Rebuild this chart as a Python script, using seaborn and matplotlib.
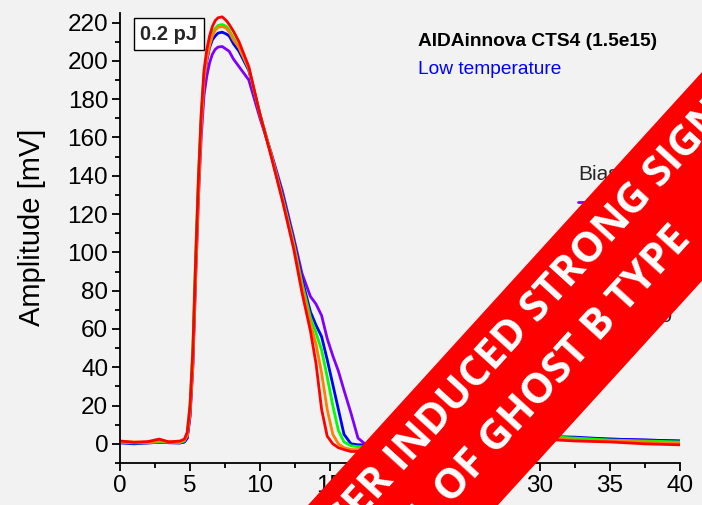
import numpy as np
import pandas as pd
import matplotlib
matplotlib.use("Agg")
import matplotlib.pyplot as plt
import seaborn as sns
from matplotlib.patches import Polygon
from matplotlib.ticker import MultipleLocator

# ---------------- data ----------------
time_ns = [0, 1, 2, 2.8, 3.5, 4.3, 4.6, 4.8, 5.0, 5.2, 5.4, 5.6, 5.8, 6.0, 6.2, 6.4,
           6.6, 6.8, 7.0, 7.3, 7.6, 7.8, 8.1, 8.5, 9.2, 10.0, 10.8, 11.6, 12.4, 13.0,
           13.6, 14.0, 14.4, 14.8, 15.2, 15.6, 16.0, 16.5, 17.0, 17.5, 18.5, 20,
           22.5, 25, 27.5, 30, 32.5, 35, 37.5, 40]

amp_purple = [0.8, 0.5, 0.5, 0.8, 0.6, 0.5, 1.0, 3, 14, 40, 86, 128, 160, 182, 192, 199,
              203.5, 206, 207.2, 207.5, 206, 205, 201, 197, 190, 170, 152, 132, 108, 89,
              77, 73, 67, 55, 46, 38, 28, 16, 3, 0, 0, 1,
              3, 4, 4.5, 4, 3, 2.5, 2, 1.5]
amp_blue = [0.5, 0.0, 0.5, 0.8, 0.6, 0.5, 1.0, 3, 15, 42, 90, 133, 168, 190, 200, 207,
            211, 213, 214.5, 215, 214, 213, 209, 205, 195, 172, 151, 130, 106, 86,
            69, 62, 56, 44, 31, 18, 5, 0, -0.5, -0.5, 0, 1,
            3, 4.5, 5, 4, 3.5, 2.5, 2, 1.5]
amp_green = [0.8, 0.5, 0.6, 1.0, 0.8, 0.7, 1.5, 5, 20, 50, 98, 140, 172, 193, 203, 210,
             214.5, 217, 218.5, 219, 218, 216, 212, 207, 196, 172, 151, 129, 105, 84,
             66, 58, 49, 35, 20, 7, 1, -1, -1.5, -1.5, -1, 0,
             2, 4, 5, 4, 3, 2, 1.5, 1]
amp_orange = [1.2, 1.0, 0.8, 1.5, 1.2, 1.0, 2.0, 4, 16, 40, 85, 128, 165, 190, 201, 208,
              213, 216, 217.5, 218, 217, 215, 211, 207, 196, 172, 151, 128, 104, 82,
              63, 52, 37, 18, 5, 0, -2, -3, -3, -3, -2, -1,
              1, 3, 4, 3, 2, 1.5, 1, 0.5]
amp_red = [1.5, 0.8, 1.2, 2.5, 1.0, 1.5, 2.5, 6, 20, 48, 95, 138, 172, 195, 206, 213,
           218, 221, 222.5, 223, 221, 219, 215.5, 210, 197, 172, 150, 127, 102, 79,
           59, 42, 18, 4, 0, -2, -3, -4, -4, -4, -3, -2,
           0, 2, 3, 2.5, 1.5, 1, 0, -0.5]

bias_labels = ["200", "300", "400", "500", "600"]
series = [amp_purple, amp_blue, amp_green, amp_orange, amp_red]
colors = ["#8000ff", "#0000ff", "#00ff00", "#ff8000", "#ff0000"]

# ---------------- figure ----------------
BG = "#f2f2f2"
W, H = 702, 505
sns.set_theme(style="ticks")
plt.rcParams['font.family'] = ['Liberation Sans', 'DejaVu Sans']

fig = plt.figure(figsize=(W / 100, H / 100), dpi=100, facecolor=BG)
ax = fig.add_axes([120 / W, 42 / H, 560 / W, 450 / H])
ax.set_facecolor(BG)

df = pd.concat([pd.DataFrame({"Time": time_ns, "Amplitude": s, "Bias": b})
                for s, b in zip(series, bias_labels)], ignore_index=True)

sns.lineplot(data=df, x="Time", y="Amplitude", hue="Bias", hue_order=bias_labels,
             palette=dict(zip(bias_labels, colors)), estimator=None, sort=False,
             linewidth=2.0, ax=ax)

ax.set_xlim(0, 40)
ax.set_ylim(-10, 225)
ax.xaxis.set_major_locator(MultipleLocator(5))
ax.xaxis.set_minor_locator(MultipleLocator(2.5))
ax.yaxis.set_major_locator(MultipleLocator(20))
ax.yaxis.set_minor_locator(MultipleLocator(10))
ax.tick_params(which='major', length=6, width=1.3, direction='out', labelsize=17.5,
               pad=2.5, colors='black')
ax.tick_params(which='minor', length=3.5, width=1.3, direction='out', colors='black')
sns.despine(ax=ax)
for sp in ("left", "bottom"):
    ax.spines[sp].set_linewidth(1.3)
    ax.spines[sp].set_color("black")

ax.set_xlabel("")
ax.set_ylabel("Amplitude [mV]", fontsize=21, color="black")
ax.yaxis.set_label_coords((46 - 120) / 560, 0.523)

handles, labels = ax.get_legend_handles_labels()
ax.legend(handles, labels, title="Bias", loc="upper left",
          bbox_to_anchor=(568 / W, 1 - 155 / H), bbox_transform=fig.transFigure,
          frameon=False, fontsize=15, title_fontsize=15, alignment='left',
          borderpad=0, handlelength=2.0, labelspacing=0.45)

# ---------------- overlay (pixel coordinates) ----------------
ov = fig.add_axes([0, 0, 1, 1], zorder=10)
ov.set_xlim(0, W)
ov.set_ylim(H, 0)
ov.axis("off")
ov.patch.set_alpha(0)

ov.text(169, 34, "0.2 pJ", fontsize=14.5, fontweight="bold", ha="center", va="center",
        bbox=dict(boxstyle="square,pad=0.3", facecolor="white", edgecolor="black",
                  linewidth=1.0), zorder=2)
ov.text(418, 42, "AIDAinnova CTS4 (1.5e15)", fontsize=13.8, fontweight="bold",
        ha="left", va="center", color="black", zorder=2)
ov.text(418, 70, "Low temperature", fontsize=13.8, ha="left", va="center",
        color="#0000ff", zorder=2)

# red diagonal banner
ang = 47.7
a = np.deg2rad(ang)
d = np.array([np.cos(a), -np.sin(a)])      # along band (pixel coords, y down)
n = np.array([-np.sin(a), -np.cos(a)])     # towards upper-left edge
c0 = np.array([600.0, 280.0])
top_off, bot_off = 64.5, 76.0              # distance of edges from c0
L = 900
corners = [c0 + L * d + top_off * n, c0 + L * d - bot_off * n,
           c0 - L * d - bot_off * n, c0 - L * d + top_off * n]
ov.add_patch(Polygon(corners, closed=True, facecolor="#ff0000", edgecolor="none", zorder=5))

bfs = 30
bkw = dict(color="white", fontsize=bfs, fontweight="bold",
           family=["Open Sans", "DejaVu Sans"])
renderer = fig.canvas.get_renderer()


def text_w(s):
    t = ov.text(0, 0, s, **bkw)
    w = t.get_window_extent(renderer).width
    t.remove()
    return w


line1 = "LASER INDUCED STRONG SIGNAL"
line2 = "TYPICAL OF GHOST B TYPE"
prefix_w = text_w("LASER I") - text_w("I")
start1 = c0 + (-276 - prefix_w) * d + 27 * n
end2 = c0 + 92 * d - 31 * n
ov.text(start1[0], start1[1], line1, rotation=ang, rotation_mode="anchor",
        ha="left", va="center", zorder=6, **bkw)
ov.text(end2[0], end2[1], line2, rotation=ang, rotation_mode="anchor",
        ha="right", va="center", zorder=6, **bkw)

fig.savefig("out.png", dpi=100, facecolor=BG)
